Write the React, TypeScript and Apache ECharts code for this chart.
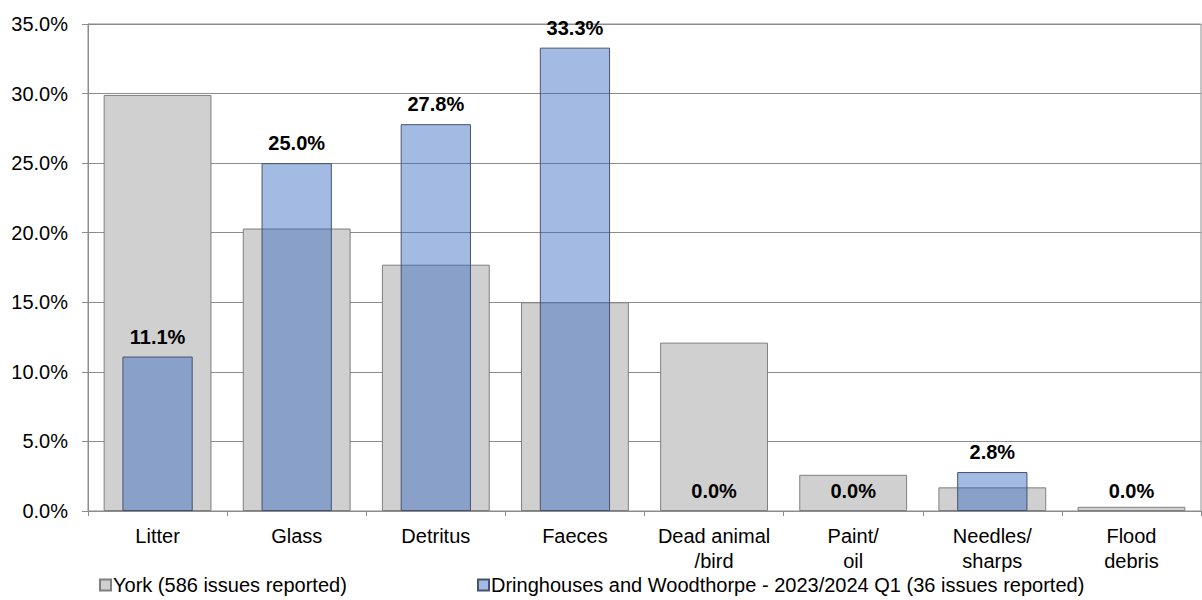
import React, { useEffect, useRef } from "react";
import * as echarts from "echarts";

const categories = ["Litter", "Glass", "Detritus", "Faeces", "Dead animal\n/bird", "Paint/\noil", "Needles/\nsharps", "Flood\ndebris"];
const yorkValues = [29.9, 20.3, 17.7, 15.0, 12.1, 2.6, 1.7, 0.3];
const wardValues = [11.1, 25.0, 27.8, 33.3, 0.0, 0.0, 2.8, 0.0];
const yorkName = "York (586 issues reported)";
const wardName = "Dringhouses and Woodthorpe - 2023/2024 Q1 (36 issues reported)";

const FONT = "'Liberation Sans', Arial, sans-serif";

export default function App() {
  const ref = useRef<HTMLDivElement>(null);
  useEffect(() => {
    if (!ref.current) return;
    const chart = echarts.init(ref.current, undefined, { renderer: "svg" });
    const gridColor = "#8c8c8c";
    chart.setOption({
      animation: false,
      textStyle: { fontFamily: FONT },
      grid: {
        left: 88,
        right: 1,
        top: 24,
        bottom: 89,
        show: true,
        borderColor: gridColor,
        borderWidth: 1,
        backgroundColor: "transparent",
      },
      legend: [
        {
          data: [yorkName],
          left: 99,
          top: 575,
          padding: 0,
          icon: "rect",
          itemWidth: 11,
          itemHeight: 11,
          itemGap: 0,
          textStyle: { fontSize: 20, color: "#000", fontFamily: FONT, padding: [0, 0, 0, -3] },
        },
        {
          data: [wardName],
          left: 477,
          top: 575,
          padding: 0,
          icon: "rect",
          itemWidth: 11,
          itemHeight: 11,
          textStyle: { fontSize: 20, color: "#000", fontFamily: FONT, padding: [0, 0, 0, -3] },
        },
      ],
      xAxis: [
        {
          type: "category",
          data: categories,
          axisLine: { lineStyle: { color: gridColor, width: 1 } },
          axisTick: { show: true, length: 5, interval: 0, lineStyle: { color: gridColor } },
          axisLabel: {
            interval: 0,
            color: "#000",
            fontSize: 20,
            fontFamily: FONT,
            lineHeight: 25,
            margin: 12,
          },
        },
        {
          type: "category",
          data: categories,
          show: false,
        },
      ],
      yAxis: {
        type: "value",
        min: 0,
        max: 35,
        interval: 5,
        axisLine: { show: true, lineStyle: { color: gridColor, width: 1 } },
        axisTick: { show: true, length: 6, lineStyle: { color: gridColor } },
        splitLine: { lineStyle: { color: gridColor, width: 1 } },
        axisLabel: {
          color: "#000",
          fontSize: 20,
          fontFamily: FONT,
          margin: 20,
          formatter: (v: number) => v.toFixed(1) + "%",
        },
      },
      series: [
        {
          name: yorkName,
          type: "bar",
          xAxisIndex: 0,
          data: yorkValues,
          barWidth: "77.5%",
          itemStyle: { color: "#d0d0d0", borderColor: "#7f7f7f", borderWidth: 1 },
          z: 2,
        },
        {
          name: wardName,
          type: "bar",
          xAxisIndex: 1,
          data: wardValues.map((v) => (v === 0 ? { value: v, itemStyle: { borderWidth: 0 } } : v)),
          barWidth: "50.5%",
          itemStyle: { color: "rgba(46,100,189,0.44)", borderColor: "#46536f", borderWidth: 1 },
          label: {
            show: true,
            position: "top",
            distance: 10,
            color: "#000",
            fontWeight: "bold",
            fontSize: 20,
            fontFamily: FONT,
            formatter: (p: any) => Number(p.value).toFixed(1) + "%",
          },
          z: 3,
        },
      ],
    });
    return () => chart.dispose();
  }, []);
  return <div ref={ref} style={{ width: 1202, height: 600, position: "absolute", left: 0, top: 0 }} />;
}
